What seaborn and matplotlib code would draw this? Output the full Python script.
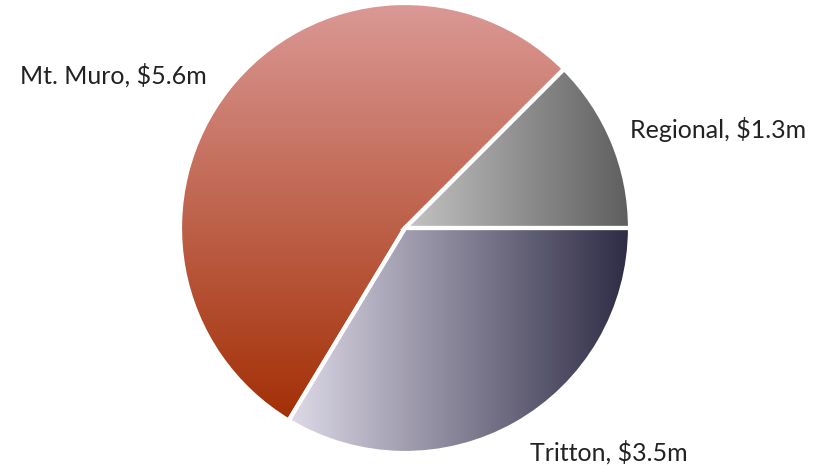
import numpy as np
import matplotlib
matplotlib.use("Agg")
import matplotlib.pyplot as plt
import seaborn as sns

labels = ["Regional", "Mt. Muro", "Tritton"]
values = [1.3, 5.6, 3.5]
label_texts = ["Regional, $1.3m", "Mt. Muro, $5.6m", "Tritton, $3.5m"]
grad_colors = [("#C4C4C4", "#5E5E5E"), ("#DB9996", "#A32F05"), ("#DEDAE8", "#2D2B44")]
grad_dirs = ["h", "v", "h"]

sns.set_theme(style="white")
plt.rcParams['font.family'] = ['Lato', 'DejaVu Sans']

W, H = 815, 466
fig = plt.figure(figsize=(W / 100, H / 100), dpi=100)
ax = fig.add_axes([0, 0, 1, 1])
ax.set_xlim(0, W)
ax.set_ylim(0, H)
ax.set_aspect("equal")
ax.axis("off")

cx, cy, r = 405, H - 228, 225
wedges, _ = ax.pie(values, startangle=0, counterclock=True, center=(cx, cy), radius=r,
                   wedgeprops=dict(edgecolor="white", linewidth=3), frame=True)
ax.set_xlim(0, W)
ax.set_ylim(0, H)
ax.axis("off")

for w, (c1, c2), d in zip(wedges, grad_colors, grad_dirs):
    w.set_facecolor("none")
    cmap = sns.blend_palette([c1, c2], n_colors=256, as_cmap=True)
    verts = w.get_path().vertices
    x0, x1 = verts[:, 0].min(), verts[:, 0].max()
    y0, y1 = verts[:, 1].min(), verts[:, 1].max()
    if d == "h":
        grad = np.linspace(0, 1, 256).reshape(1, -1)
    else:
        grad = np.linspace(0, 1, 256).reshape(-1, 1)
    im = ax.imshow(grad, cmap=cmap, extent=(x0, x1, y0, y1), aspect="auto", origin="upper",
                   interpolation="bilinear", zorder=1)
    im.set_clip_path(w)
    w.set_zorder(2)

ax.set_xlim(0, W)
ax.set_ylim(0, H)

fs = 18
tc = "#222222"
ax.text(630, H - 130, label_texts[0], fontsize=fs, color=tc, ha="left", va="center")
ax.text(20, H - 75, label_texts[1], fontsize=fs, color=tc, ha="left", va="center")
ax.text(530, H - 452, label_texts[2], fontsize=fs, color=tc, ha="left", va="center")

fig.savefig("out.png", dpi=100, facecolor="white")
